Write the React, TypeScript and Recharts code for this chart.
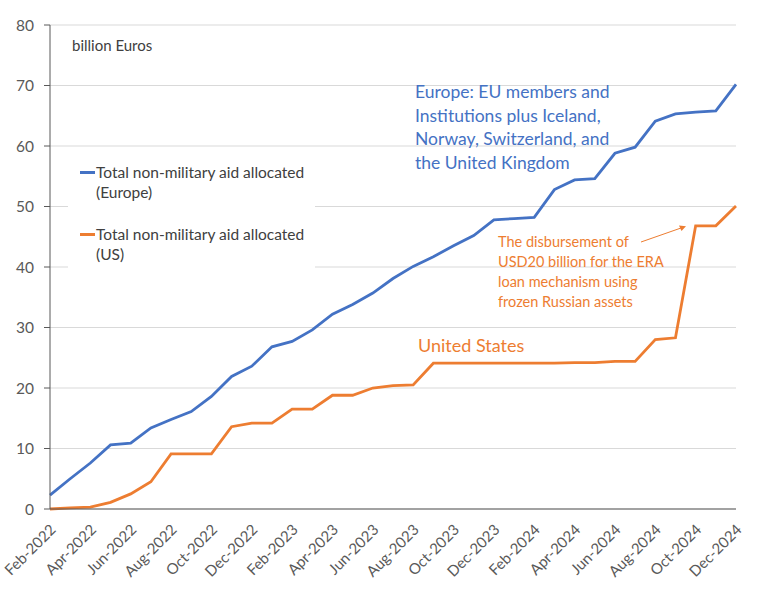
import React from 'react';
import { LineChart, Line, XAxis, YAxis, CartesianGrid, Legend, Customized } from 'recharts';

const months = [
  'Feb-2022', 'Mar-2022', 'Apr-2022', 'May-2022', 'Jun-2022', 'Jul-2022', 'Aug-2022', 'Sep-2022', 'Oct-2022', 'Nov-2022', 'Dec-2022',
  'Jan-2023', 'Feb-2023', 'Mar-2023', 'Apr-2023', 'May-2023', 'Jun-2023', 'Jul-2023', 'Aug-2023', 'Sep-2023', 'Oct-2023', 'Nov-2023', 'Dec-2023',
  'Jan-2024', 'Feb-2024', 'Mar-2024', 'Apr-2024', 'May-2024', 'Jun-2024', 'Jul-2024', 'Aug-2024', 'Sep-2024', 'Oct-2024', 'Nov-2024', 'Dec-2024',
];

const europe = [
  2.3, 5.0, 7.6, 10.6, 10.9, 13.4, 14.8, 16.1, 18.6, 21.9, 23.6,
  26.8, 27.7, 29.6, 32.2, 33.8, 35.7, 38.1, 40.1, 41.7, 43.5, 45.2, 47.8,
  48.0, 48.2, 52.8, 54.4, 54.6, 58.8, 59.8, 64.1, 65.3, 65.6, 65.8, 70.2,
];

const us = [
  0, 0.2, 0.3, 1.1, 2.5, 4.5, 9.1, 9.1, 9.1, 13.6, 14.2,
  14.2, 16.5, 16.5, 18.8, 18.8, 20.0, 20.4, 20.5, 24.1, 24.1, 24.1, 24.1,
  24.1, 24.1, 24.1, 24.2, 24.2, 24.4, 24.4, 28.0, 28.3, 46.8, 46.8, 50.1,
];

const yTicks = [0, 10, 20, 30, 40, 50, 60, 70, 80];

const seriesNames = ['Total non-military aid allocated (Europe)', 'Total non-military aid allocated (US)'];
const europeNote = ['Europe: EU members and', 'Institutions plus Iceland,', 'Norway, Switzerland, and', 'the United Kingdom'];
const usNote = ['The disbursement of', 'USD20 billion for the ERA', 'loan mechanism using', 'frozen Russian assets'];

const BLUE = '#4472C4';
const ORANGE = '#ED7D31';
const FONT = 'Lato, "Open Sans", sans-serif';

const data = months.map((m, i) => ({ month: m, europe: europe[i], us: us[i] }));

const XTick = (props: any) => {
  const { x, y, payload } = props;
  return (
    <g transform={`translate(${x + 3},${y + 18})`}>
      <text textAnchor="end" transform="rotate(-45)" dy="0.35em" fill="#595959" fontSize={15} fontFamily={FONT}>
        {payload.value}
      </text>
    </g>
  );
};

const renderLegend = () => {
  const items = [
    { color: BLUE, lines: ['Total non-military aid allocated', '(Europe)'] },
    { color: ORANGE, lines: ['Total non-military aid allocated', '(US)'] },
  ];
  return (
    <div style={{ fontFamily: FONT, fontSize: 15.5, color: '#404040', lineHeight: '20px' }}>
      {items.map((it, k) => (
        <div key={k} style={{ display: 'flex', alignItems: 'flex-start', marginBottom: k === 0 ? 22 : 0 }}>
          <div style={{ width: 15, height: 3, background: it.color, marginTop: 9, marginRight: 1 }} />
          <div>
            {it.lines.map((l, j) => (
              <div key={j}>{l}</div>
            ))}
          </div>
        </div>
      ))}
    </div>
  );
};

const Annotations = () => (
  <g fontFamily={FONT}>
    <text x={72} y={46} dy="0.35em" fontSize={15} fill="#404040">billion Euros</text>
    {europeNote.map((l, i) => (
      <text key={i} x={415} y={92 + i * 23.5} dy="0.35em" fontSize={17.5} fill={BLUE}>{l}</text>
    ))}
    <text x={418} y={346} dy="0.35em" fontSize={18} fill={ORANGE}>United States</text>
    {usNote.map((l, i) => (
      <text key={i} x={498} y={242 + i * 20} dy="0.35em" fontSize={14.5} fill={ORANGE}>{l}</text>
    ))}
    <line x1={641} y1={242} x2={681} y2={228} stroke={ORANGE} strokeWidth={1} />
    <polygon points="686,226.3 679,225.5 681.5,231" fill={ORANGE} />
  </g>
);

export default function App() {
  return (
    <div style={{ position: 'absolute', left: 0, top: 0, background: '#fff' }}>
      <LineChart width={762} height={593} data={data} margin={{ top: 25, right: 26, bottom: 0, left: 0 }}>
        <CartesianGrid vertical={false} stroke="#d9d9d9" />
        <XAxis
          dataKey="month"
          interval={1}
          height={84}
          tickLine={false}
          tickSize={0}
          tickMargin={0}
          axisLine={{ stroke: '#595959' }}
          tick={<XTick />}
        />
        <YAxis
          domain={[0, 80]}
          ticks={yTicks}
          width={50}
          tickSize={6}
          tickMargin={10}
          axisLine={{ stroke: '#595959' }}
          tickLine={{ stroke: '#595959' }}
          tick={{ fill: '#595959', fontSize: 15.5, fontFamily: FONT }}
        />
        <Legend
          layout="vertical"
          align="center"
          verticalAlign="middle"
          content={renderLegend}
          wrapperStyle={{ position: 'absolute', left: 68, top: 162, width: 247, height: 110, background: '#fff', paddingLeft: 12, boxSizing: 'border-box' }}
        />
        <Line dataKey="europe" name={seriesNames[0]} stroke={BLUE} strokeWidth={2.8} dot={false} isAnimationActive={false} />
        <Line dataKey="us" name={seriesNames[1]} stroke={ORANGE} strokeWidth={2.8} dot={false} isAnimationActive={false} />
        <Customized component={Annotations} />
      </LineChart>
    </div>
  );
}
